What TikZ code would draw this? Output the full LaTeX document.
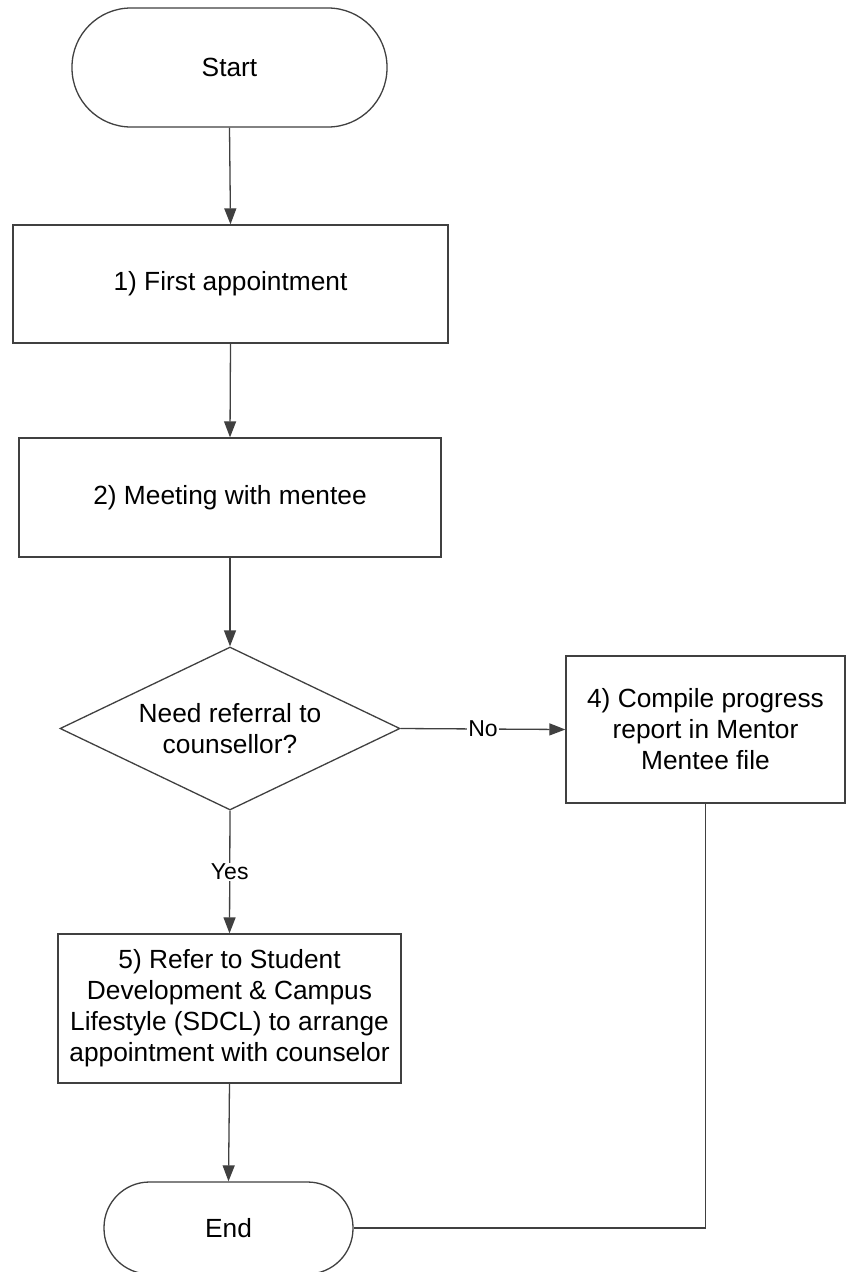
\documentclass[tikz,border=0pt]{standalone}
\usepackage{fontspec}
\setmainfont{Liberation Sans}
\usetikzlibrary{arrows.meta,shapes.geometric}
\definecolor{linecol}{gray}{0.25}
\begin{document}
\begin{tikzpicture}[x=1pt,y=-1pt,
  every node/.style={font=\fontsize{26.3}{31}\selectfont, text=black},
  box/.style={draw=linecol, line width=1.3pt, rectangle, inner sep=0pt, align=center},
  term/.style={box, rounded corners=#1},
  dec/.style={draw=linecol, line width=1.3pt, diamond, shape aspect=2.09, inner sep=0pt, align=center, minimum width=340pt, minimum height=163pt},
  conn/.style={draw=linecol, line width=1.3pt, -{Triangle[length=16pt,width=12pt]}},
  plain/.style={draw=linecol, line width=1.3pt},
  lbl/.style={font=\fontsize{23}{27}\selectfont, fill=white, inner sep=1pt}
]
\useasboundingbox[fill=white] (0,0) rectangle (846,1272);

\node[term=59pt, minimum width=315pt, minimum height=119pt] (start) at (229.5,67.5) {Start};
\node[box, minimum width=435pt, minimum height=118pt] (b1) at (230.5,284) {1) First appointment};
\node[box, minimum width=422pt, minimum height=119pt] (b2) at (230,497.5) {2) Meeting with mentee};
\node[dec] (d) at (230,728.5) {Need referral to\\counsellor?};
\node[box, minimum width=279pt, minimum height=147pt] (b4) at (705.5,729.5) {4) Compile progress\\report in Mentor\\Mentee file};
\node[box, minimum width=343pt, minimum height=149pt] (b5) at (229.5,1008.5) {5) Refer to Student\\Development \& Campus\\Lifestyle (SDCL) to arrange\\appointment with counselor};
\node[term=45.5pt, minimum width=249pt, minimum height=92pt] (end) at (228.5,1228) {End};

\draw[conn] (start.south) -- (b1.north);
\draw[conn] (b1.south) -- (b2.north);
\draw[conn] (b2.south) -- (d.north);
\draw[conn] (d.east) -- node[lbl] {No} (b4.west);
\draw[conn] (d.south) -- node[lbl] {Yes} (b5.north);
\draw[conn] (b5.south) -- (end.north);
\draw[plain] (b4.south) |- (end.east);
\end{tikzpicture}
\end{document}
